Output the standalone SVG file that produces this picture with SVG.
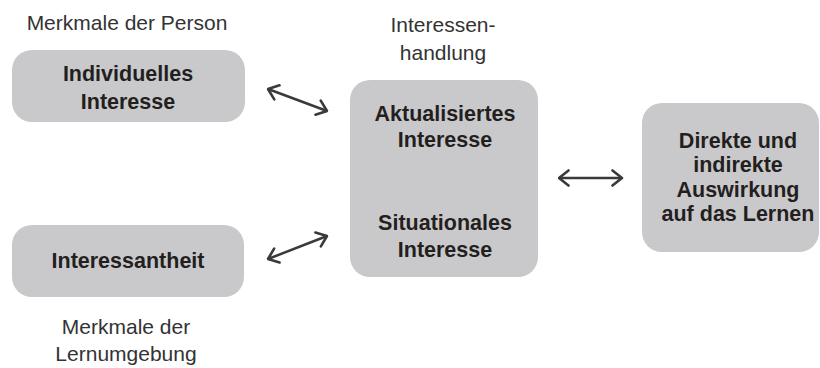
<svg xmlns="http://www.w3.org/2000/svg" width="820" height="368" viewBox="0 0 820 368">
<style>
.box{fill:#c9c9cb;}
.b{font-family:"Liberation Sans",Arial,sans-serif;font-weight:bold;font-size:21.5px;fill:#231f20;text-anchor:middle;}
.r{font-family:"Liberation Sans",Arial,sans-serif;font-size:21px;fill:#333333;text-anchor:middle;}
.c{stroke:#3a3a3a;stroke-width:2.5;fill:none;marker-start:url(#h);marker-end:url(#h);}
</style>
<defs>
<marker id="h" viewBox="0 0 13 18" refX="11.5" refY="9" markerWidth="13" markerHeight="18" markerUnits="userSpaceOnUse" orient="auto-start-reverse">
<path d="M2,1.5 L11.5,9 L2,16.5" fill="none" stroke="#3a3a3a" stroke-width="2.6" stroke-linecap="round" stroke-linejoin="round"/>
</marker>
</defs>
<rect width="820" height="368" fill="#ffffff"/>
<g id="label-person"><text class="r" x="127" y="30">Merkmale der Person</text></g>
<g id="label-umgebung"><text class="r" x="126" y="334">Merkmale der</text><text class="r" x="126" y="361">Lernumgebung</text></g>
<g id="label-handlung"><text class="r" x="443" y="32">Interessen-</text><text class="r" x="443" y="60">handlung</text></g>
<g id="individuell"><rect class="box" x="12" y="50" width="233" height="72" rx="20"/><text class="b" x="128" y="81">Individuelles</text><text class="b" x="128" y="109">Interesse</text></g>
<g id="interessantheit"><rect class="box" x="12" y="225" width="232" height="72" rx="20"/><text class="b" x="128" y="268">Interessantheit</text></g>
<g id="aktuell"><rect class="box" x="350" y="80" width="188" height="197" rx="20"/><text class="b" x="445" y="121">Aktualisiertes</text><text class="b" x="445" y="147">Interesse</text><text class="b" x="445" y="230">Situationales</text><text class="b" x="445" y="257">Interesse</text></g>
<g id="auswirkung"><rect class="box" x="642" y="103" width="177" height="149" rx="20"/><text class="b" x="738" y="148">Direkte und</text><text class="b" x="738" y="172">indirekte</text><text class="b" x="738" y="197">Auswirkung</text><text class="b" x="738" y="221">auf das Lernen</text></g>
<g id="connectors">
<line class="c" x1="268" y1="89" x2="327" y2="111"/>
<line class="c" x1="268" y1="259" x2="327" y2="236"/>
<line class="c" x1="559" y1="178" x2="622" y2="178"/>
</g>
</svg>
